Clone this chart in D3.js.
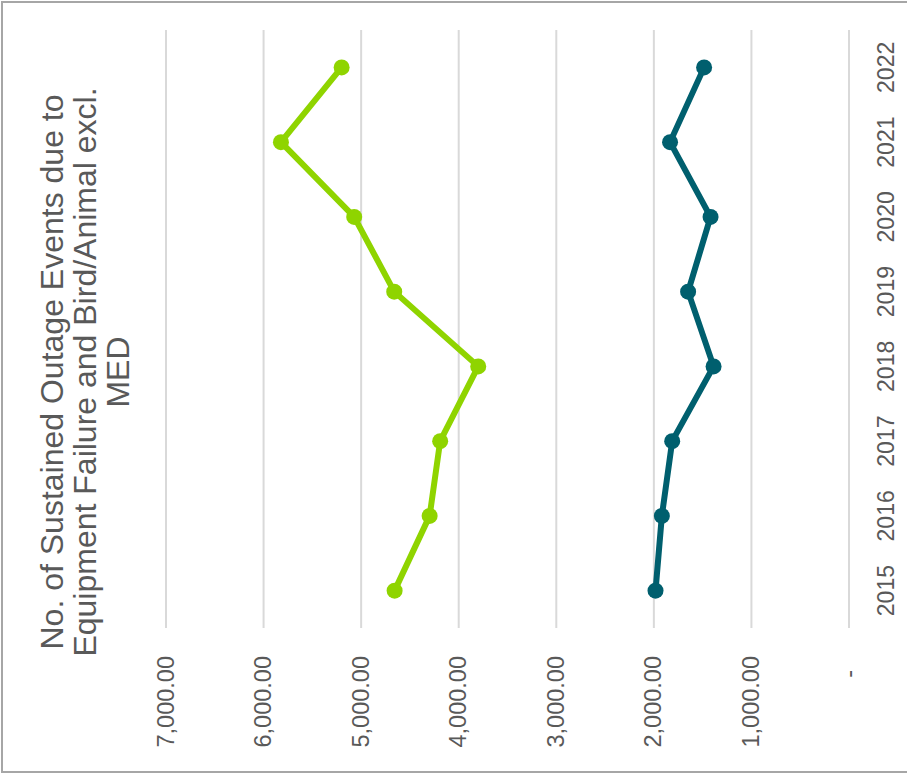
<!DOCTYPE html>
<html>
<head>
<meta charset="utf-8">
<script src="https://cdn.jsdelivr.net/npm/d3@7"></script>
<style>
  html, body { margin: 0; padding: 0; background: #ffffff; }
  svg { display: block; font-family: "Liberation Sans", Arial, sans-serif; }
</style>
</head>
<body>
<svg id="chart" width="907" height="779"></svg>
<script>
// Sustained outage events by year (chart drawn turned on its side)
const years = ["2015", "2016", "2017", "2018", "2019", "2020", "2021", "2022"];
const equipmentFailure = [4657, 4298, 4190, 3800, 4661, 5071, 5822, 5200];
const birdAnimal = [1983, 1918, 1812, 1388, 1649, 1419, 1834, 1485];
const valueTicks = [0, 1000, 2000, 3000, 4000, 5000, 6000, 7000];
const titleLines = [
  "No. of Sustained Outage Events due to",
  "Equipment Failure and Bird/Animal excl.",
  "MED"
];

const svg = d3.select("#chart");
const textColor = "#595959";

// Outer chart border
svg.append("rect")
  .attr("x", 2).attr("y", 2)
  .attr("width", 920).attr("height", 770)
  .attr("fill", "none")
  .attr("stroke", "#a6a6a6")
  .attr("stroke-width", 2);

// Value scale runs right-to-left, categories bottom-to-top
const x = d3.scaleLinear().domain([0, 7000]).range([849, 166]);
const y = d3.scaleBand().domain(years).range([628, 30]).padding(0);
const yc = d => y(d) + y.bandwidth() / 2;

// Gridlines
svg.append("g")
  .selectAll("line")
  .data(valueTicks)
  .join("line")
  .attr("x1", d => x(d)).attr("x2", d => x(d))
  .attr("y1", 30).attr("y2", 628)
  .attr("stroke", "#d9d9d9")
  .attr("stroke-width", 2);

// Value tick labels (accounting style: zero shown as a dash)
const fmt = d3.format(",.2f");
svg.append("g")
  .selectAll("text")
  .data(valueTicks)
  .join("text")
  .attr("transform", d => `translate(${x(d) + 7.5},${d === 0 ? 670 : 656}) rotate(-90)`)
  .attr("text-anchor", "end")
  .attr("font-size", 23.5)
  .attr("fill", textColor)
  .text(d => d === 0 ? "-" : fmt(d));

// Category labels
svg.append("g")
  .selectAll("text")
  .data(years)
  .join("text")
  .attr("transform", d => `translate(893.5,${yc(d)}) rotate(-90)`)
  .attr("text-anchor", "middle")
  .attr("font-size", 23)
  .attr("fill", textColor)
  .text(d => d);

// Title
svg.append("g")
  .selectAll("text")
  .data(titleLines)
  .join("text")
  .attr("transform", (d, i) => `translate(${63 + i * 33},372) rotate(-90)`)
  .attr("text-anchor", "middle")
  .attr("font-size", 32)
  .attr("fill", textColor)
  .text(d => d);

// Series lines with markers
const series = [
  { values: equipmentFailure, color: "#8fd400" },
  { values: birdAnimal, color: "#005f6e" }
];

const line = d3.line()
  .x(d => x(d.v))
  .y(d => yc(d.year));

series.forEach(s => {
  const pts = years.map((yr, i) => ({ year: yr, v: s.values[i] }));
  const g = svg.append("g");
  g.append("path")
    .datum(pts)
    .attr("d", line)
    .attr("fill", "none")
    .attr("stroke", s.color)
    .attr("stroke-width", 6)
    .attr("stroke-linejoin", "round")
    .attr("stroke-linecap", "round");
  g.selectAll("circle")
    .data(pts)
    .join("circle")
    .attr("cx", d => x(d.v))
    .attr("cy", d => yc(d.year))
    .attr("r", 8)
    .attr("fill", s.color);
});
</script>
</body>
</html>
